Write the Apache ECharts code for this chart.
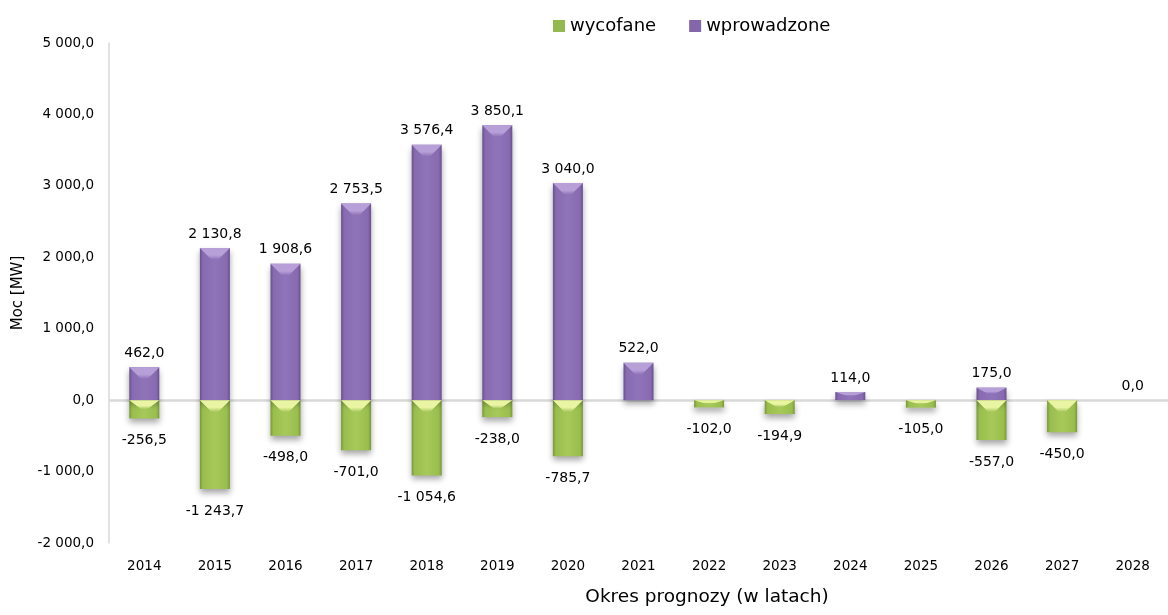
<!DOCTYPE html>
<html>
<head>
<meta charset="utf-8">
<script src="https://cdn.jsdelivr.net/npm/echarts@6/dist/echarts.min.js"></script>
<style>
  html, body { margin: 0; padding: 0; background: #ffffff; }
  #chart { width: 1168px; height: 615px; }
</style>
</head>
<body>
<div id="chart"></div>
<script>
// Years of the forecast period
const years = ['2014', '2015', '2016', '2017', '2018', '2019', '2020', '2021', '2022', '2023', '2024', '2025', '2026', '2027', '2028'];
// Capacity withdrawn [MW] (null = no entry)
const wycofane = [-256.5, -1243.7, -498.0, -701.0, -1054.6, -238.0, -785.7, null, -102.0, -194.9, null, -105.0, -557.0, -450.0, null];
// Capacity introduced [MW] (null = no entry)
const wprowadzone = [462.0, 2130.8, 1908.6, 2753.5, 3576.4, 3850.1, 3040.0, 522.0, null, null, 114.0, null, 175.0, null, 0.0];
// Value axis range
const yMin = -2000, yMax = 5000, yStep = 1000;

const FONT = 'DejaVu Sans';
const BAR_W = 30;

// Polish number format: space as thousands separator, comma as decimal mark
function fmt(v) {
  const parts = Math.abs(v).toFixed(1).split('.');
  const intPart = parts[0].replace(/\B(?=(\d{3})+(?!\d))/g, ' ');
  return (v < 0 ? '-' : '') + intPart + ',' + parts[1];
}

function barGradient(edge, mid, centre) {
  return new echarts.graphic.LinearGradient(0, 0, 1, 0, [
    { offset: 0, color: edge },
    { offset: 0.1, color: mid },
    { offset: 0.5, color: centre },
    { offset: 0.9, color: mid },
    { offset: 1, color: edge }
  ]);
}

// Bevelled top face drawn over each bar
function bevelRenderer(light, base) {
  return function (params, api) {
    const v = api.value(1);
    if (v == null || isNaN(v) || v === 0) return null;
    const i = api.value(0);
    const pZero = api.coord([i, 0]);
    const pVal = api.coord([i, v]);
    const x = pZero[0];
    const top = Math.min(pZero[1], pVal[1]);
    const h = Math.abs(pZero[1] - pVal[1]);
    const d = Math.min(12, h * 0.5);
    const half = BAR_W / 2;
    return {
      type: 'polygon',
      shape: {
        points: [[x - half, top], [x + half, top], [x + 3, top + d], [x - 3, top + d]]
      },
      style: {
        fill: new echarts.graphic.LinearGradient(0, 0, 0, 1, [
          { offset: 0, color: light },
          { offset: 0.6, color: light },
          { offset: 1, color: base }
        ])
      },
      silent: true
    };
  };
}

const chart = echarts.init(document.getElementById('chart'), null, { renderer: 'canvas' });

const shadow = {
  shadowColor: 'rgba(0,0,0,0.35)',
  shadowBlur: 6,
  shadowOffsetY: 4
};

const labelBase = { fontFamily: FONT, fontSize: 14, color: '#000000' };

chart.setOption({
  animation: false,
  backgroundColor: '#ffffff',
  textStyle: { fontFamily: FONT },
  legend: {
    top: 12,
    left: 548,
    itemWidth: 12,
    itemHeight: 12,
    itemGap: 33,
    icon: 'rect',
    textStyle: { fontFamily: FONT, fontSize: 18, color: '#000000' },
    data: [
      { name: 'wycofane', itemStyle: { color: '#93b94f' } },
      { name: 'wprowadzone', itemStyle: { color: '#8467ab' } }
    ]
  },
  grid: { left: 109, right: -15, top: 43, bottom: 72, containLabel: false },
  xAxis: {
    type: 'category',
    data: years,
    position: 'bottom',
    axisLine: { show: false },
    axisTick: { show: false },
    axisLabel: { margin: 16, fontFamily: FONT, fontSize: 13.5, color: '#000000' }
  },
  yAxis: {
    type: 'value',
    min: yMin,
    max: yMax,
    interval: yStep,
    name: 'Moc [MW]',
    nameLocation: 'middle',
    nameGap: 83,
    nameTextStyle: { fontFamily: FONT, fontSize: 15, color: '#000000' },
    axisLine: { show: true, lineStyle: { color: '#d9d9d9', width: 1.5 } },
    axisTick: { show: false },
    splitLine: { show: false },
    axisLabel: { margin: 15, fontFamily: FONT, fontSize: 13.5, color: '#000000', formatter: fmt }
  },
  graphic: [
    {
      type: 'text',
      x: 707,
      y: 597,
      style: {
        text: 'Okres prognozy (w latach)',
        font: '18.5px "DejaVu Sans"',
        fill: '#000000',
        textAlign: 'center',
        textVerticalAlign: 'middle'
      }
    }
  ],
  series: [
    {
      name: 'wycofane',
      type: 'bar',
      stack: 'moc',
      barWidth: BAR_W,
      data: wycofane,
      itemStyle: Object.assign({
        color: barGradient('#7a9837', '#9abe4e', '#a6c95a')
      }, shadow),
      label: Object.assign({
        show: true,
        position: 'bottom',
        distance: 15,
        formatter: p => (p.value == null ? '' : fmt(p.value))
      }, labelBase),
      markLine: {
        silent: true,
        symbol: 'none',
        label: { show: false },
        lineStyle: { color: '#d9d9d9', width: 2.5, type: 'solid' },
        data: [{ yAxis: 0 }],
        z: 1
      }
    },
    {
      name: 'wprowadzone',
      type: 'bar',
      stack: 'moc',
      barWidth: BAR_W,
      data: wprowadzone,
      itemStyle: Object.assign({
        color: barGradient('#68508c', '#876ab0', '#9074b9')
      }, shadow),
      label: Object.assign({
        show: true,
        position: 'top',
        distance: 7,
        formatter: p => (p.value == null ? '' : fmt(p.value))
      }, labelBase)
    },
    {
      type: 'custom',
      name: 'bevel-wycofane',
      silent: true,
      z: 3,
      data: wycofane.map((v, i) => [i, v]),
      renderItem: bevelRenderer('#e9f5a3', '#a2c556')
    },
    {
      type: 'custom',
      name: 'bevel-wprowadzone',
      silent: true,
      z: 3,
      data: wprowadzone.map((v, i) => [i, v]),
      renderItem: bevelRenderer('#b7a0d8', '#8c6fb4')
    }
  ]
});
</script>
</body>
</html>
